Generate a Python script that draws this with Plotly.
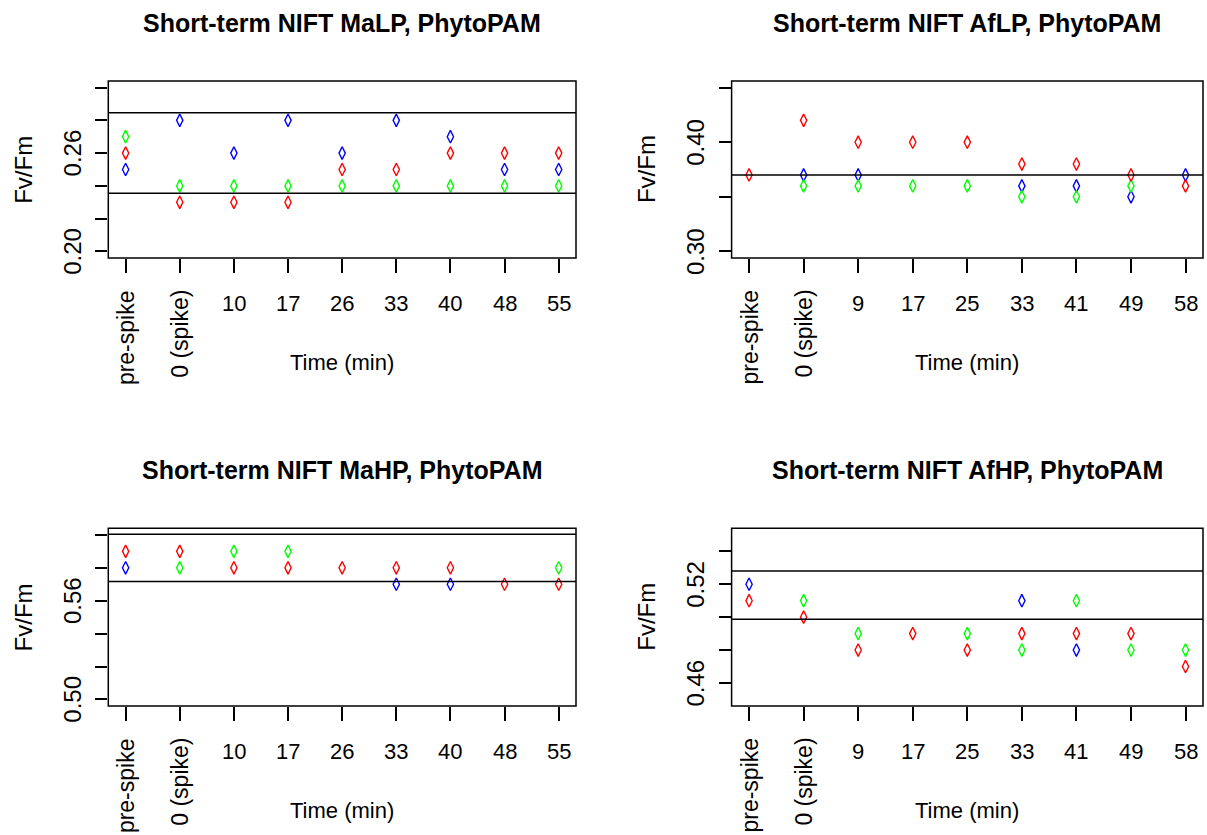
import plotly.graph_objects as go

# ---- data -------------------------------------------------------------
time_labels_ma = ["pre-spike", "0 (spike)", "10", "17", "26", "33", "40", "48", "55"]
time_labels_af = ["pre-spike", "0 (spike)", "9", "17", "25", "33", "41", "49", "58"]
positions = [1, 2, 3, 4, 5, 6, 7, 8, 9]

# Short-term NIFT MaLP
malp_red = [0.26, 0.23, 0.23, 0.23, 0.25, 0.25, 0.26, 0.26, 0.26]
malp_blue = [0.25, 0.28, 0.26, 0.28, 0.26, 0.28, 0.27, 0.25, 0.25]
malp_green = [0.27, 0.24, 0.24, 0.24, 0.24, 0.24, 0.24, 0.24, 0.24]
malp_hlines = [0.2847, 0.2355]

# Short-term NIFT AfLP
aflp_red = [0.37, 0.42, 0.40, 0.40, 0.40, 0.38, 0.38, 0.37, 0.36]
aflp_blue = [None, 0.37, 0.37, None, None, 0.36, 0.36, 0.35, 0.37]
aflp_green = [None, 0.36, 0.36, 0.36, 0.36, 0.35, 0.35, 0.36, None]
aflp_hlines = [0.37]

# Short-term NIFT MaHP
mahp_red = [0.59, 0.59, 0.58, 0.58, 0.58, 0.58, 0.58, 0.57, 0.57]
mahp_blue = [0.58, None, None, None, None, 0.57, 0.57, None, None]
mahp_green = [None, 0.58, 0.59, 0.59, None, None, None, None, 0.58]
mahp_hlines = [0.6004, 0.5716]

# Short-term NIFT AfHP
afhp_red = [0.51, 0.50, 0.48, 0.49, 0.48, 0.49, 0.49, 0.49, 0.47]
afhp_blue = [0.52, None, None, None, None, 0.51, 0.48, None, None]
afhp_green = [None, 0.51, 0.49, None, 0.49, 0.48, 0.51, 0.48, 0.48]
afhp_hlines = [0.5281, 0.4987]

# y-axis ticks and which of them carry a label
malp_yticks = [0.20, 0.22, 0.24, 0.26, 0.28, 0.30]
malp_ylabels = ["0.20", "", "", "0.26", "", ""]
aflp_yticks = [0.30, 0.35, 0.40, 0.45]
aflp_ylabels = ["0.30", "", "0.40", ""]
mahp_yticks = [0.50, 0.52, 0.54, 0.56, 0.58, 0.60]
mahp_ylabels = ["0.50", "", "", "0.56", "", ""]
afhp_yticks = [0.46, 0.48, 0.50, 0.52, 0.54]
afhp_ylabels = ["0.46", "", "", "0.52", ""]

malp_ylim = [0.20, 0.30]
aflp_ylim = [0.30, 0.45]
mahp_ylim = [0.50, 0.60]
afhp_ylim = [0.45, 0.55]

titles = [
    "Short-term NIFT MaLP, PhytoPAM",
    "Short-term NIFT AfLP, PhytoPAM",
    "Short-term NIFT MaHP, PhytoPAM",
    "Short-term NIFT AfHP, PhytoPAM",
]

# ---- layout helpers ---------------------------------------------------
W, H = 1207, 835
FONT = "Liberation Sans, Arial, sans-serif"


def px_x(x):
    return x / W


def px_y(y):
    return 1 - y / H


def r_range(lim):
    # R-style 4% padding on either side
    pad = (lim[1] - lim[0]) * 0.04
    return [lim[0] - pad, lim[1] + pad]


# pixel geometry of the four plot boxes (left, right, top, bottom)
boxes = [
    (108.3, 576.0, 81.0, 258.0),
    (731.6, 1203.0, 81.0, 258.0),
    (108.3, 576.0, 528.3, 706.0),
    (731.6, 1203.0, 528.3, 706.0),
]

panels = [
    (time_labels_ma, malp_red, malp_blue, malp_green, malp_hlines, malp_yticks, malp_ylabels, malp_ylim),
    (time_labels_af, aflp_red, aflp_blue, aflp_green, aflp_hlines, aflp_yticks, aflp_ylabels, aflp_ylim),
    (time_labels_ma, mahp_red, mahp_blue, mahp_green, mahp_hlines, mahp_yticks, mahp_ylabels, mahp_ylim),
    (time_labels_af, afhp_red, afhp_blue, afhp_green, afhp_hlines, afhp_yticks, afhp_ylabels, afhp_ylim),
]

fig = go.Figure()
annotations = []
shapes = []
layout_axes = {}

for i, (panel, box, title) in enumerate(zip(panels, boxes, titles)):
    labels, red, blue, green, hlines, yticks, ylabels, ylim = panel
    left, right, top, bottom = box
    n = i + 1
    xa = "x" if n == 1 else f"x{n}"
    ya = "y" if n == 1 else f"y{n}"
    xkey = "xaxis" if n == 1 else f"xaxis{n}"
    ykey = "yaxis" if n == 1 else f"yaxis{n}"

    layout_axes[xkey] = dict(
        domain=[px_x(left), px_x(right)],
        range=[0.68, 9.32],
        anchor=ya,
        tickvals=positions,
        showticklabels=False,
        ticks="outside",
        ticklen=14,
        tickwidth=1.5,
        tickcolor="black",
        showgrid=False,
        zeroline=False,
        showline=False,
        fixedrange=True,
    )
    layout_axes[ykey] = dict(
        domain=[px_y(bottom), px_y(top)],
        range=r_range(ylim),
        anchor=xa,
        tickvals=yticks,
        showticklabels=False,
        ticks="outside",
        ticklen=12,
        tickwidth=1.5,
        tickcolor="black",
        showgrid=False,
        zeroline=False,
        showline=False,
        fixedrange=True,
    )

    for vals, col in ((blue, "#0000FF"), (green, "#00FF00"), (red, "#FF0000")):
        fig.add_trace(go.Scatter(
            x=positions, y=vals, xaxis=xa, yaxis=ya, mode="markers",
            marker=dict(symbol="diamond-tall-open", size=9, color=col,
                        line=dict(width=1.4, color=col)),
            showlegend=False, hoverinfo="skip",
        ))

    # plot box
    shapes.append(dict(type="rect", xref=f"{xa} domain", yref=f"{ya} domain",
                       x0=0, x1=1, y0=0, y1=1, line=dict(color="black", width=1.5)))
    # reference lines
    for h in hlines:
        shapes.append(dict(type="line", xref=f"{xa} domain", yref=ya,
                           x0=0, x1=1, y0=h, y1=h, line=dict(color="black", width=1.5)))

    cx = (left + right) / 2
    # title
    annotations.append(dict(text=f"<b>{title}</b>", x=px_x(cx), y=px_y(top - 58), xref="paper", yref="paper",
                            showarrow=False, xanchor="center", yanchor="middle",
                            font=dict(family=FONT, size=25, color="black")))
    # x-axis title
    annotations.append(dict(text="Time (min)", x=px_x(cx), y=px_y(bottom + 104), xref="paper", yref="paper",
                            showarrow=False, xanchor="center", yanchor="middle",
                            font=dict(family=FONT, size=22, color="black")))
    # y-axis title
    annotations.append(dict(text="Fv/Fm", x=px_x(left - 85), y=px_y((top + bottom) / 2),
                            xref="paper", yref="paper", textangle=-90,
                            showarrow=False, xanchor="center", yanchor="middle",
                            font=dict(family=FONT, size=24, color="black")))
    # y tick labels
    for v, t in zip(yticks, ylabels):
        if t:
            annotations.append(dict(text=t, x=px_x(left - 36), y=v, xref="paper", yref=ya,
                                    textangle=-90, showarrow=False, xanchor="center", yanchor="middle",
                                    font=dict(family=FONT, size=24, color="black")))
    # x tick labels: the two text labels run vertically, the minutes horizontally
    for p, t in zip(positions, labels):
        if p <= 2:
            annotations.append(dict(text=t, x=p, y=px_y(bottom + 30), xref=xa, yref="paper",
                                    textangle=-90, showarrow=False, xanchor="center", yanchor="top",
                                    font=dict(family=FONT, size=23, color="black")))
        else:
            annotations.append(dict(text=t, x=p, y=px_y(bottom + 45), xref=xa, yref="paper",
                                    showarrow=False, xanchor="center", yanchor="middle",
                                    font=dict(family=FONT, size=22, color="black")))

fig.update_layout(
    width=W, height=H,
    margin=dict(l=0, r=0, t=0, b=0),
    paper_bgcolor="white", plot_bgcolor="white",
    showlegend=False,
    annotations=annotations,
    shapes=shapes,
    **layout_axes,
)

fig.write_html("out.html")
